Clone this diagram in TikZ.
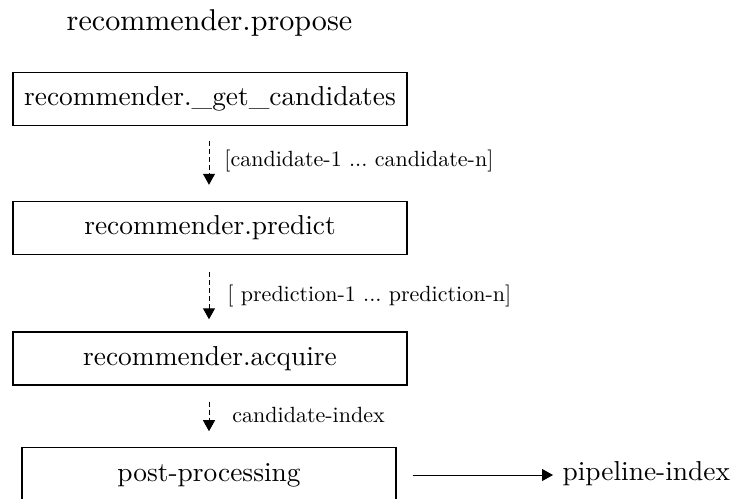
\documentclass[tikz,border=0pt]{standalone}
\usetikzlibrary{arrows.meta}
\frenchspacing
\begin{document}
\begin{tikzpicture}[x=0.36496pt, y=-0.36496pt, scale=2.74,
  every node/.style={transform shape},
  box/.style={draw, line width=1.2pt, minimum width=#1, minimum height=19.4pt, inner sep=0pt},
  lbl/.style={anchor=base west, inner sep=0pt, scale=0.803},
  flow/.style={line width=1pt, dash pattern=on 5pt off 3pt, -{Triangle[length=11pt,width=12pt]}},
  solidflow/.style={line width=1pt, -{Triangle[length=11pt,width=12pt]}}]
\useasboundingbox (0,0) rectangle (732,499);
\node[anchor=base, inner sep=0pt, scale=1.0985] (title) at (209.5,31) {recommender.propose};
\node[box=143.8pt] (b1) at (210,99) {recommender.\_get\_candidates};
\node[box=143.8pt] (b2) at (210,228) {recommender.predict};
\node[box=143.8pt] (b3) at (210,358.5) {recommender.acquire};
\node[box=136.5pt, minimum height=19.8pt] (b4) at (209,475) {post-processing};
\node[anchor=base west, inner sep=0pt] (pipe) at (562,480) {pipeline-index};
\node[lbl] (l1) at (224,167) {[candidate-1 ... candidate-n]};
\node[lbl] (l2) at (227,301) {[ prediction-1 ... prediction-n]};
\node[lbl] (l3) at (232,422) {candidate-index};
\draw[flow, shorten <=14pt, shorten >=15pt] (b1.south -| 209,0) -- (b2.north -| 209,0);
\draw[flow, shorten <=16pt, shorten >=11pt] (b2.south -| 209,0) -- (b3.north -| 209,0);
\draw[flow, shorten <=15pt, shorten >=15pt] (b3.south -| 209,0) -- (b4.north -| 209,0);
\draw[solidflow, shorten <=15pt, shorten >=9pt] (b4.east) -- (b4.east -| pipe.west);
\end{tikzpicture}
\end{document}
